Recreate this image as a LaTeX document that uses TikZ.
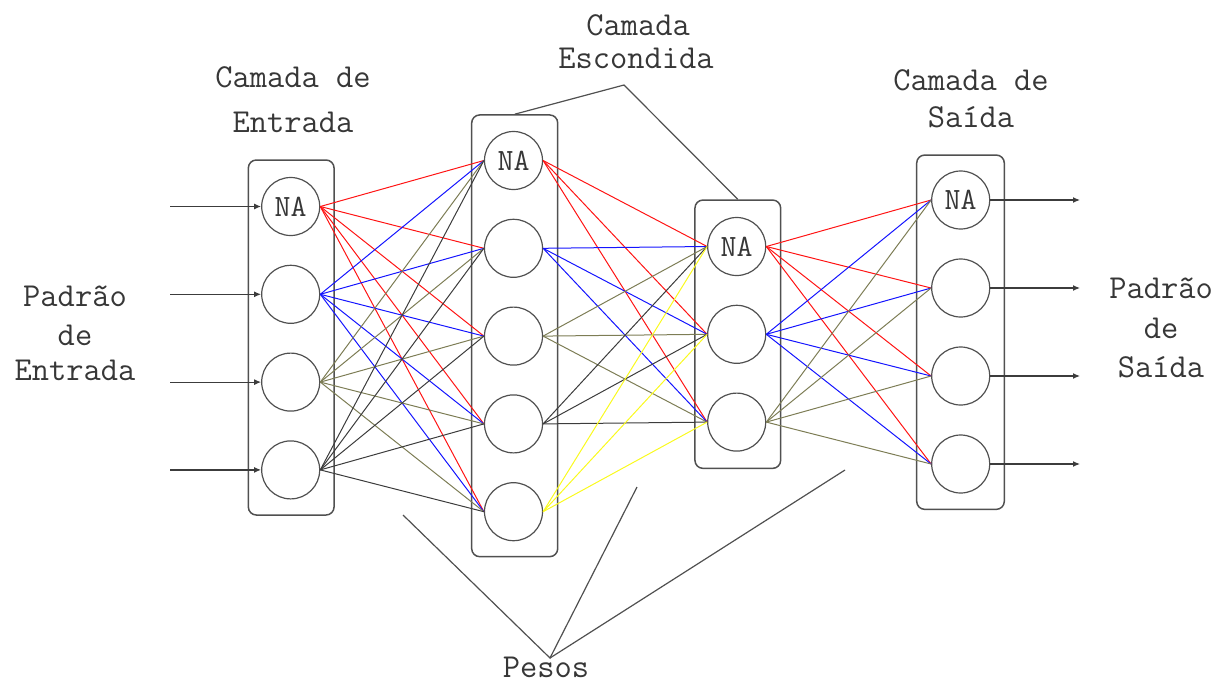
\documentclass[tikz,border=0pt]{standalone}
\usepackage{fontspec}
\usetikzlibrary{arrows.meta}
\definecolor{cRed}{RGB}{255,20,20}
\definecolor{cBlue}{RGB}{20,20,255}
\definecolor{cOlive}{RGB}{125,125,85}
\definecolor{cDark}{RGB}{60,60,60}
\definecolor{cYellow}{RGB}{250,250,30}
\definecolor{cLine}{RGB}{80,80,80}
\definecolor{cText}{RGB}{55,55,55}
\newcommand\labfont{\fontsize{33.5}{38}\selectfont\ttfamily}
\newcommand\nafont{\fontsize{31}{34}\selectfont\ttfamily}
\tikzset{
  neuron/.style={circle, draw=cLine, line width=1.2pt, minimum size=58pt, inner sep=0pt, font=\nafont, text=cText},
  layerbox/.style={rectangle, draw=cLine, line width=1.5pt, rounded corners=8pt, inner sep=0pt},
  conn/.style={line width=1pt},
  pointer/.style={draw=cLine, line width=1.2pt},
  iobar/.style={draw=cDark, line width=1.2pt, -{Latex[length=7pt,width=6pt]}},
  lab/.style={font=\labfont, text=cText, anchor=base, inner sep=0pt}
}
\begin{document}
\begin{tikzpicture}[x=1pt,y=-1pt]
\useasboundingbox (0,0) rectangle (1218,689);
% layer boxes
\node[layerbox, minimum width=85.7pt, minimum height=355pt] (boxIn) at (291.2,337.5) {};
\node[layerbox, minimum width=86pt, minimum height=441.7pt] (boxHa) at (514.7,335.8) {};
\node[layerbox, minimum width=85.7pt, minimum height=268.3pt] (boxHb) at (737.8,334.2) {};
\node[layerbox, minimum width=87.6pt, minimum height=354.3pt] (boxOut) at (960.5,332.2) {};
% neurons
\node[neuron] (I1) at (290.7,206.5) {NA};
\node[neuron] (I2) at (290.7,294.3) {};
\node[neuron] (I3) at (290.7,382.1) {};
\node[neuron] (I4) at (290.7,469.9) {};
\node[neuron] (H1) at (513.5,160.5) {NA};
\node[neuron] (H2) at (513.5,248.3) {};
\node[neuron] (H3) at (513.5,336.1) {};
\node[neuron] (H4) at (513.5,423.9) {};
\node[neuron] (H5) at (513.5,511.7) {};
\node[neuron] (N1) at (736.7,246.5) {NA};
\node[neuron] (N2) at (736.7,334.3) {};
\node[neuron] (N3) at (736.7,422.1) {};
\node[neuron] (O1) at (960.7,200) {NA};
\node[neuron] (O2) at (960.7,288) {};
\node[neuron] (O3) at (960.7,376) {};
\node[neuron] (O4) at (960.7,464) {};
% connections input -> hidden 1
\foreach \i/\c in {1/cRed,2/cBlue,3/cOlive,4/cDark}
  \foreach \j in {1,...,5}
    \draw[conn,\c] (I\i.east) -- (H\j.west);
% hidden 1 -> hidden 2
\foreach \i/\c in {1/cRed,2/cBlue,3/cOlive,4/cDark,5/cYellow}
  \foreach \j in {1,2,3}
    \draw[conn,\c] (H\i.east) -- (N\j.west);
% hidden 2 -> output
\foreach \i/\c in {1/cRed,2/cBlue,3/cOlive}
  \foreach \j in {1,...,4}
    \draw[conn,\c] (N\i.east) -- (O\j.west);
% input and output arrows
\foreach \j/\y in {1/206.5,2/294.3,3/382.1,4/469.9} {
  \coordinate (inS\j) at (170,\y);
  \draw[iobar] (inS\j) -- (I\j.west);
}
\foreach \j/\y in {1/200,2/288,3/376,4/464} {
  \coordinate (outE\j) at (1080,\y);
  \draw[iobar] (O\j.east) -- (outE\j);
}
% pointer to hidden layers
\coordinate (hidP) at (624,85);
\draw[pointer] (boxHa.north) -- (hidP) -- (boxHb.north);
% pointer to weights
\coordinate (wP) at (550,658);
\coordinate (wA) at (403,515);
\coordinate (wB) at (637,487);
\coordinate (wC) at (845,470);
\draw[pointer] (wA) -- (wP) -- (wB);
\draw[pointer] (wP) -- (wC);
% labels
\node[lab] (tInA) at (293,87) {Camada de};
\node[lab] (tInB) at (293,132) {Entrada};
\node[lab] (tHidA) at (638,35) {Camada};
\node[lab] (tHidB) at (636,68) {Escondida};
\node[lab] (tOutA) at (971,90) {Camada de};
\node[lab] (tOutB) at (971,127) {Saída};
\node[lab] (tPinA) at (75,306) {Padrão};
\node[lab] (tPinB) at (75,345) {de};
\node[lab] (tPinC) at (75,380) {Entrada};
\node[lab] (tPoutA) at (1161,298) {Padrão};
\node[lab] (tPoutB) at (1161,338) {de};
\node[lab] (tPoutC) at (1161,377) {Saída};
\node[lab] (tW) at (546,677) {Pesos};
\end{tikzpicture}
\end{document}
